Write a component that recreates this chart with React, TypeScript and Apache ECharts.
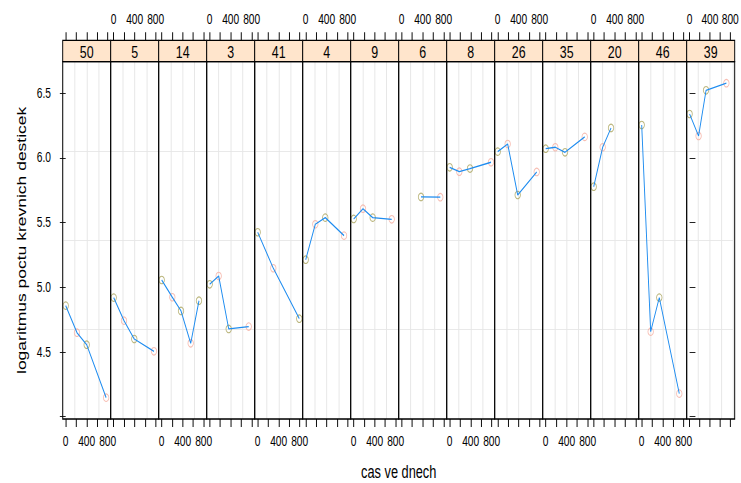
import React, { useEffect, useRef } from "react";
import * as echarts from "echarts";

// Patients (one panel each), in display order
const panels = ["50", "5", "14", "3", "41", "4", "9", "6", "8", "26", "35", "20", "46", "39"];

// Days since first measurement, per patient
const days = [
  [0, 215, 400, 770],
  [0, 196, 392, 767],
  [0, 202, 368, 552, 710],
  [0, 171, 362, 743],
  [0, 297, 792],
  [0, 183, 373, 730],
  [0, 177, 362, 724],
  [368, 735],
  [0, 183, 387, 787],
  [0, 190, 381, 743],
  [0, 183, 368, 743],
  [0, 171, 330],
  [0, 171, 335, 716],
  [0, 177, 324, 724],
];

// log platelet counts, per patient
const logCounts = [
  [4.858, 4.649, 4.556, 4.147],
  [4.92, 4.742, 4.6, 4.505],
  [5.056, 4.923, 4.817, 4.567, 4.896],
  [5.023, 5.087, 4.678, 4.696],
  [5.425, 5.147, 4.757],
  [5.213, 5.487, 5.538, 5.399],
  [5.528, 5.607, 5.538, 5.525],
  [5.698, 5.696],
  [5.927, 5.893, 5.917, 5.966],
  [6.048, 6.107, 5.713, 5.891],
  [6.071, 6.082, 6.043, 6.162],
  [5.777, 6.082, 6.231],
  [6.254, 4.657, 4.92, 4.178],
  [6.339, 6.169, 6.522, 6.577],
];

const xTickValues = [0, 200, 400, 600, 800];
const xLabelValues = [0, 400, 800];
const yTickValues = [4.0, 4.5, 5.0, 5.5, 6.0, 6.5];
const yLabelValues = [4.5, 5.0, 5.5, 6.0, 6.5];

const X_MIN = -57;
const X_MAX = 857;
const Y_MIN = 3.982;
const Y_MAX = 6.743;

const Y_TITLE = "logaritmus poctu krevnich desticek";
const X_TITLE = "cas ve dnech";

// The chart is laid out on a wider canvas and squeezed horizontally.
const SQUEEZE = 0.73;
const OUT_W = 741;
const OUT_H = 483;
const W = OUT_W / SQUEEZE;
const px = (x: number) => x / SQUEEZE;

const PANEL_LEFT = px(62.7);
const PANEL_W = px(48);
const PANEL_TOP = 61.7;
const PANEL_H = 357.3;
const STRIP_H = 21.4;

const POINT_COLORS = ["#a9a25a", "#f5ad9f"];
const LINE_COLOR = "#1e8cf0";
const GRID_COLOR = "#e6e6e6";
const STRIP_FILL = "#ffe5cc";
const FONT = "'Liberation Sans', Arial, Helvetica, sans-serif";

function buildOption(): echarts.EChartsOption {
  const grid: any[] = [];
  const xAxis: any[] = [];
  const yAxis: any[] = [];
  const series: any[] = [];
  const graphic: any[] = [];

  panels.forEach((label, i) => {
    const left = PANEL_LEFT + i * PANEL_W;
    grid.push({ left, top: PANEL_TOP, width: PANEL_W, height: PANEL_H, show: false });

    const tickStyle = { color: "#000", width: 1.3 };
    const labelStyle = { color: "#000", fontSize: 14, fontFamily: FONT, fontWeight: "normal" };
    // bottom data axis
    xAxis.push({
      gridIndex: i,
      type: "value",
      position: "bottom",
      min: X_MIN,
      max: X_MAX,
      axisLine: { show: false },
      splitLine: { show: false },
      axisTick: { show: true, inside: false, length: 8, customValues: xTickValues, lineStyle: tickStyle },
      axisLabel: { show: i % 2 === 0, customValues: xLabelValues, margin: 15, ...labelStyle },
    });
    // top axis, above the strip
    xAxis.push({
      gridIndex: i,
      type: "value",
      position: "top",
      offset: STRIP_H,
      min: X_MIN,
      max: X_MAX,
      axisLine: { show: false },
      splitLine: { show: false },
      axisTick: { show: true, inside: false, length: 8, customValues: xTickValues, lineStyle: tickStyle },
      axisLabel: { show: i % 2 === 1, customValues: xLabelValues, margin: 14, ...labelStyle },
    });
    // vertical reference lines (panel split in quarters)
    xAxis.push({
      gridIndex: i,
      type: "value",
      min: 0,
      max: 4,
      interval: 1,
      axisLine: { show: false },
      axisTick: { show: false },
      axisLabel: { show: false },
      splitLine: { show: true, lineStyle: { color: GRID_COLOR, width: 1.3 } },
    });

    yAxis.push({
      gridIndex: i,
      type: "value",
      show: i === 0 || i === panels.length - 1,
      position: i === panels.length - 1 ? "right" : "left",
      min: Y_MIN,
      max: Y_MAX,
      axisLine: { show: false },
      splitLine: { show: false },
      axisTick: { show: true, inside: false, length: 8, customValues: yTickValues, lineStyle: { color: "#000", width: 1 } },
      axisLabel: {
        show: i === 0,
        customValues: yLabelValues,
        formatter: (v: number) => v.toFixed(1),
        margin: 16,
        ...labelStyle,
      },
      name: i === 0 ? Y_TITLE : "",
      nameLocation: "middle",
      nameGap: 48,
      nameTextStyle: { color: "#000", fontSize: 17.5, fontFamily: FONT, fontWeight: "normal" },
    });
    // horizontal reference lines
    yAxis.push({
      gridIndex: i,
      type: "value",
      min: 0,
      max: 4,
      interval: 1,
      axisLine: { show: false },
      axisTick: { show: false },
      axisLabel: { show: false },
      splitLine: { show: true, lineStyle: { color: GRID_COLOR, width: 1 } },
    });

    const pts = days[i].map((d, k) => [d, logCounts[i][k]]);
    series.push({
      type: "scatter",
      xAxisIndex: 3 * i,
      yAxisIndex: 2 * i,
      symbol: "circle",
      symbolSize: 7.5,
      z: 3,
      data: pts.map((p, k) => ({
        value: p,
        itemStyle: { color: "rgba(0,0,0,0)", borderColor: POINT_COLORS[k % 2], borderWidth: 1.1 },
      })),
    });
    series.push({
      type: "line",
      xAxisIndex: 3 * i,
      yAxisIndex: 2 * i,
      showSymbol: false,
      z: 4,
      lineStyle: { color: LINE_COLOR, width: 1.3 },
      data: pts,
    });

    // strip with the patient label
    graphic.push({
      type: "rect",
      z: 100,
      shape: { x: left, y: PANEL_TOP - STRIP_H, width: PANEL_W, height: STRIP_H },
      style: { fill: STRIP_FILL, stroke: "#000", lineWidth: 1.3 },
    });
    graphic.push({
      type: "text",
      z: 101,
      x: left + PANEL_W / 2,
      y: PANEL_TOP - STRIP_H / 2 + 1,
      style: {
        text: label,
        fontSize: 17,
        fontFamily: FONT,
        fontWeight: "normal",
        fill: "#000",
        stroke: "none",
        lineWidth: 0,
        align: "center",
        verticalAlign: "middle",
      },
    });
    // panel frame
    graphic.push({
      type: "rect",
      z: 100,
      shape: { x: left, y: PANEL_TOP, width: PANEL_W, height: PANEL_H },
      style: { fill: "none", stroke: "#000", lineWidth: 1.3 },
    });
  });

  graphic.push({
    type: "text",
    z: 101,
    x: PANEL_LEFT + (panels.length / 2) * PANEL_W,
    y: 472,
    style: {
      text: X_TITLE,
      fontSize: 17.5,
      fontFamily: FONT,
      fontWeight: "normal",
      fill: "#000",
      stroke: "none",
      lineWidth: 0,
      align: "center",
      verticalAlign: "middle",
    },
  });

  return {
    animation: false,
    backgroundColor: "#fff",
    grid,
    xAxis,
    yAxis,
    series,
    graphic,
  } as any;
}

export default function App() {
  const ref = useRef<HTMLDivElement>(null);

  useEffect(() => {
    if (!ref.current) return;
    const chart = echarts.init(ref.current, undefined, { renderer: "svg" });
    chart.setOption(buildOption());
    return () => chart.dispose();
  }, []);

  return (
    <div
      style={{
        position: "fixed",
        left: 0,
        top: 0,
        width: OUT_W,
        height: OUT_H,
        overflow: "hidden",
        background: "#fff",
      }}
    >
      <div
        ref={ref}
        style={{ width: W, height: OUT_H, transform: `scaleX(${SQUEEZE})`, transformOrigin: "0 0" }}
      />
    </div>
  );
}
